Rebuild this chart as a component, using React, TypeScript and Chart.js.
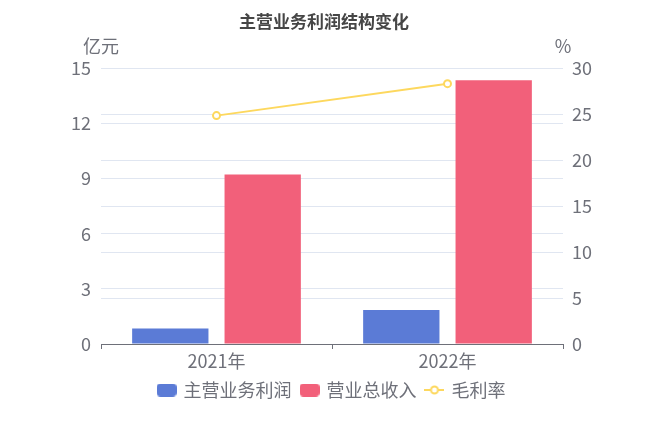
import { useEffect, useRef } from 'react';
import { Chart, registerables } from 'chart.js';

Chart.register(...registerables);

const years = ['2021年', '2022年'];
const mainProfit = [0.85, 1.85];
const totalRevenue = [9.22, 14.35];
const grossMargin = [24.86, 28.34];
const seriesNames = ['主营业务利润', '营业总收入', '毛利率'];
const axisNames = ['亿元', '%'];

const FONT = '"Noto Sans CJK SC", "Noto Sans", sans-serif';
const BLUE = '#5b7bd6';
const RED = '#f2607a';
const YELLOW = '#fdd85e';
const GREY = '#6e7079';

function makeBox(color: string) {
  const c = document.createElement('canvas');
  c.width = 20;
  c.height = 13;
  const g = c.getContext('2d')!;
  g.fillStyle = color;
  g.beginPath();
  g.roundRect(0, 0, 20, 13, 4);
  g.fill();
  return c;
}

function makeLineMark(color: string) {
  const c = document.createElement('canvas');
  c.width = 20;
  c.height = 12;
  const g = c.getContext('2d')!;
  g.strokeStyle = color;
  g.lineWidth = 2;
  g.beginPath();
  g.moveTo(0, 6);
  g.lineTo(20, 6);
  g.stroke();
  g.beginPath();
  g.arc(10, 6, 3.5, 0, Math.PI * 2);
  g.fillStyle = '#fff';
  g.fill();
  g.stroke();
  return c;
}

const axisNamePlugin = {
  id: 'axisNames',
  afterDraw(chart: Chart) {
    const { ctx, chartArea } = chart;
    ctx.save();
    ctx.font = `18px ${FONT}`;
    ctx.fillStyle = GREY;
    ctx.textAlign = 'center';
    ctx.textBaseline = 'middle';
    ctx.fillText(axisNames[0], chartArea.left, 46);
    ctx.fillText(axisNames[1], chartArea.right, 46);
    ctx.restore();
  }
};

export default function App() {
  const canvasRef = useRef<HTMLCanvasElement | null>(null);

  useEffect(() => {
    document.body.style.margin = '0';
    if (!canvasRef.current) return;

    const marks = [makeBox(BLUE), makeBox(RED), makeLineMark(YELLOW)];

    const chart = new Chart(canvasRef.current, {
      type: 'bar',
      data: {
        labels: years,
        datasets: [
          {
            type: 'line',
            label: seriesNames[2],
            data: grossMargin,
            yAxisID: 'y1',
            borderColor: YELLOW,
            borderWidth: 2,
            pointRadius: 3.5,
            pointBackgroundColor: '#fff',
            pointBorderColor: YELLOW,
            pointBorderWidth: 2,
            order: 0
          } as any,
          {
            label: seriesNames[0],
            data: mainProfit,
            yAxisID: 'y',
            backgroundColor: BLUE,
            borderWidth: 0,
            categoryPercentage: 0.8,
            barPercentage: 0.826,
            order: 1
          },
          {
            label: seriesNames[1],
            data: totalRevenue,
            yAxisID: 'y',
            backgroundColor: RED,
            borderWidth: 0,
            categoryPercentage: 0.8,
            barPercentage: 0.826,
            order: 1
          }
        ]
      },
      options: {
        responsive: false,
        animation: false,
        layout: { padding: { top: 0, bottom: 23, left: 0, right: 0 } },
        plugins: {
          tooltip: { enabled: false },
          title: {
            display: true,
            text: '主营业务利润结构变化',
            color: '#464646',
            font: { family: FONT, size: 17, weight: 'bold' },
            padding: { top: 11, bottom: 37 }
          },
          legend: {
            position: 'bottom',
            fullSize: false,
            labels: {
              usePointStyle: true,
              pointStyleWidth: 16,
              padding: 10,
              color: GREY,
              font: { family: FONT, size: 18 },
              generateLabels: () => [
                { text: seriesNames[0], pointStyle: marks[0], datasetIndex: 1, hidden: false, rotation: 0, fontColor: GREY },
                { text: seriesNames[1], pointStyle: marks[1], datasetIndex: 2, hidden: false, rotation: 0, fontColor: GREY },
                { text: seriesNames[2], pointStyle: marks[2], datasetIndex: 0, hidden: false, rotation: 0, fontColor: GREY }
              ] as any
            }
          }
        },
        scales: {
          x: {
            afterFit: (scale: any) => { scale.height = 27; },
            grid: {
              drawOnChartArea: false,
              drawTicks: true,
              tickLength: 5,
              color: GREY,
              offset: true
            },
            border: { display: true, color: GREY, width: 1 },
            ticks: {
              color: GREY,
              padding: 1,
              font: { family: FONT, size: 18 }
            }
          },
          y: {
            position: 'left',
            min: 0,
            max: 15,
            afterFit: (scale: any) => { scale.width = 101; },
            grid: { color: '#e0e6f1', drawTicks: false },
            border: { display: false },
            ticks: {
              stepSize: 3,
              color: GREY,
              padding: 10,
              font: { family: FONT, size: 18 }
            }
          },
          y1: {
            position: 'right',
            min: 0,
            max: 30,
            afterFit: (scale: any) => { scale.width = 85; },
            grid: { color: '#e0e6f1', drawTicks: false },
            border: { display: false },
            ticks: {
              stepSize: 5,
              color: GREY,
              padding: 9,
              font: { family: FONT, size: 18 }
            }
          }
        }
      },
      plugins: [axisNamePlugin]
    });

    return () => {
      chart.destroy();
    };
  }, []);

  return (
    <div style={{ width: '648px', height: '432px', background: '#fff' }}>
      <canvas ref={canvasRef} width={648} height={432} />
    </div>
  );
}
